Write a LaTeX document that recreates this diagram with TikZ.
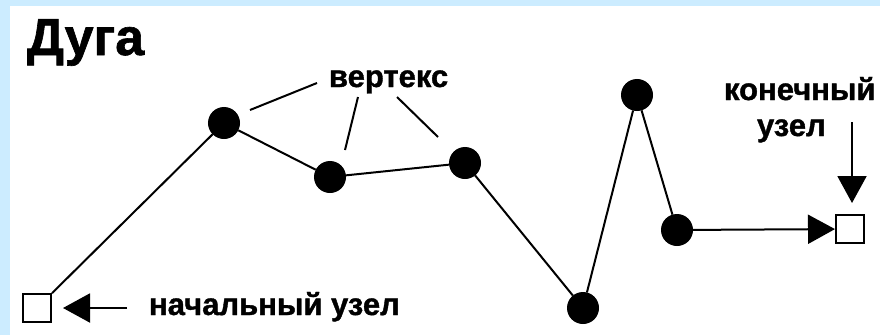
\documentclass[tikz,border=0pt]{standalone}
\usepackage{fontspec}
\setmainfont[BoldFeatures={FakeBold=1.2}]{Liberation Sans}
\usetikzlibrary{arrows.meta}
\definecolor{frameblue}{RGB}{204,236,255}
\tikzset{
  vertex/.style={shape=circle,fill=black,draw=black,inner sep=0pt,minimum size=30pt},
  endnode/.style={shape=rectangle,draw=black,line width=2pt,fill=white,inner sep=0pt,minimum size=28pt},
  label text/.style={inner sep=0pt,font=\bfseries\fontsize{31}{31}\selectfont},
  big arrow/.style={-{Triangle[length=27pt,width=29pt]},line width=2pt},
}
\begin{document}
\begin{tikzpicture}[x=1pt,y=-1pt,line width=2pt]
\useasboundingbox (0,0) rectangle (880,335);
\fill[frameblue] (0,0) rectangle (880,6);
\fill[frameblue] (0,0) rectangle (10,335);
% title
\node[inner sep=0pt,anchor=base west,font=\bfseries\fontsize{52}{52}\selectfont] (title) at (26,55) {Дуга};
% arc
\node[endnode] (start) at (37,308) {};
\node[vertex] (v1) at (224,123) {};
\node[vertex] (v2) at (330,177) {};
\node[vertex] (v3) at (465,163) {};
\node[vertex] (v4) at (583,308) {};
\node[vertex] (v5) at (637,95) {};
\node[vertex] (v6) at (677,230) {};
\node[endnode] (end) at (850,229) {};
\draw[-] (start) -- (v1);
\draw[-] (v1) -- (v2);
\draw[-] (v2) -- (v3);
\draw[-] (v3) -- (v4);
\draw[-] (v4) -- (v5);
\draw[-] (v5) -- (v6);
\draw[big arrow] (v6) -- (end);
% labels
\node[label text,anchor=base west] (vlbl) at (328,87) {вертекс};
\node[label text,anchor=base west] (slbl) at (148,315) {начальный узел};
\node[label text,anchor=base west] (elbl1) at (723,100) {конечный};
\node[label text,anchor=base west] (elbl2) at (756,136) {узел};
\coordinate (p1a) at (317,83);
\coordinate (p1b) at (250,110);
\coordinate (p2a) at (358,97);
\coordinate (p2b) at (345,150);
\coordinate (p3a) at (397,97);
\coordinate (p3b) at (438,137);
\draw[-] (p1a) -- (p1b);
\draw[-] (p2a) -- (p2b);
\draw[-] (p3a) -- (p3b);
\coordinate (sa) at (127,308);
\coordinate (sb) at (63,308);
\draw[big arrow] (sa) -- (sb);
\coordinate (ea) at (852,122);
\coordinate (eb) at (852,203);
\draw[big arrow] (ea) -- (eb);
\end{tikzpicture}
\end{document}
